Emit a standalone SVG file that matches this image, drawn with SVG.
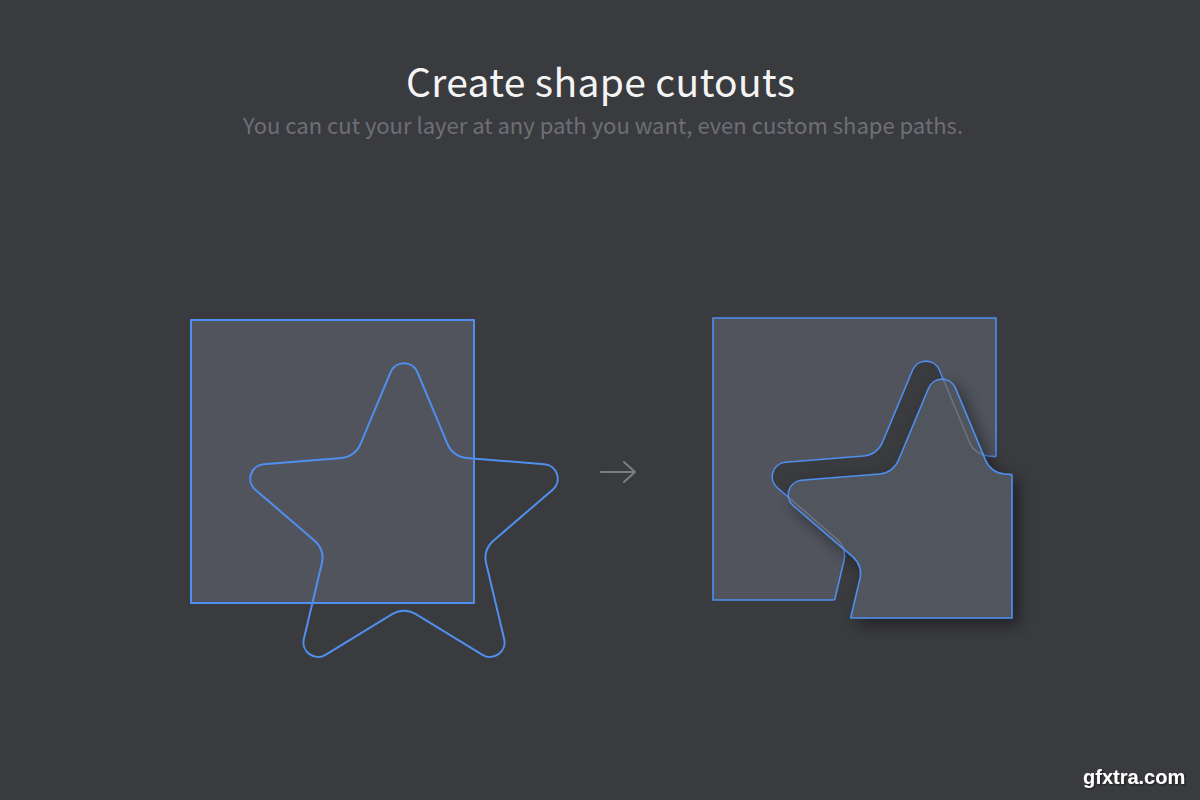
<svg xmlns="http://www.w3.org/2000/svg" width="1200" height="800" viewBox="0 0 1200 800">
<style>
  .bg{fill:#3a3b3f}
  .sq{fill:#51545d}
  .ol{fill:none;stroke:#4f8fef;stroke-width:2;stroke-linejoin:round}
  .olr{fill:none;stroke:#4f8fef;stroke-width:1.6;stroke-linejoin:round}
  .faint{fill:none;stroke:#9fb3d6;stroke-opacity:.35;stroke-width:1.4}
  .title{font-family:"Noto Sans CJK KR","Noto Sans",sans-serif;font-size:39px;fill:#f4f4f4}
  .sub{font-family:"Noto Sans CJK KR","Noto Sans",sans-serif;font-size:22px;fill:#6e6f75}
  .wm{font-family:"Liberation Sans",Arial,sans-serif;font-size:20px;font-weight:bold;fill:#ffffff}
  .arrow{fill:none;stroke:#7c7d82;stroke-width:2;stroke-linecap:round;stroke-linejoin:round}
</style>
<defs>
  <path id="star" d="M13.37,-151.98 L43.63,-79.52 A22,22 0 0 0 62.14,-66.06 L140.41,-59.68 A14.5,14.5 0 0 1 148.67,-34.25 L89.10,16.92 A22,22 0 0 0 82.03,38.69 L100.15,115.10 A14.5,14.5 0 0 1 78.51,130.81 L11.44,89.97 A22,22 0 0 0 -11.44,89.97 L-78.51,130.81 A14.5,14.5 0 0 1 -100.15,115.10 L-82.03,38.69 A22,22 0 0 0 -89.10,16.92 L-148.67,-34.25 A14.5,14.5 0 0 1 -140.41,-59.68 L-62.14,-66.06 A22,22 0 0 0 -43.63,-79.52 L-13.37,-151.98 A14.5,14.5 0 0 1 13.37,-151.98 Z"/>
  <clipPath id="clipSqR"><rect x="713" y="318" width="283" height="282"/></clipPath>
  <clipPath id="clipStarR"><use href="#star" transform="translate(926,522)"/></clipPath>
  <clipPath id="clipPiece"><use href="#star" transform="translate(942,540)"/></clipPath>
  <mask id="holeMask" maskUnits="userSpaceOnUse" x="0" y="0" width="1200" height="800">
    <rect width="1200" height="800" fill="#fff"/>
    <use href="#star" transform="translate(926,522)" fill="#000"/>
  </mask>
  <filter id="shadow" x="-30%" y="-30%" width="160%" height="160%">
    <feDropShadow dx="6" dy="6" stdDeviation="8" flood-color="#000" flood-opacity="0.45"/>
  </filter>
  <filter id="wmShadow" x="-10%" y="-30%" width="120%" height="160%">
    <feDropShadow dx="1" dy="1" stdDeviation="1" flood-color="#000" flood-opacity="0.6"/>
  </filter>
</defs>

<rect class="bg" width="1200" height="800"/>

<text class="title" x="600.5" y="97" text-anchor="middle" textLength="389">Create shape cutouts</text>
<text class="sub" x="603" y="134" text-anchor="middle" textLength="720">You can cut your layer at any path you want, even custom shape paths.</text>

<g id="left-square">
  <rect class="sq" x="191" y="320" width="283" height="283"/>
  <rect class="ol" x="191" y="320" width="283" height="283"/>
</g>
<g id="left-star">
  <use href="#star" class="ol" transform="translate(404,524)"/>
</g>

<g id="connectors">
  <path class="arrow" d="M601,472 H635 M624,462 L635,472 L624,482"/>
</g>

<g id="cut-square">
  <rect class="sq" x="713" y="318" width="283" height="282" mask="url(#holeMask)"/>
  <rect class="olr" x="713" y="318" width="283" height="282" mask="url(#holeMask)"/>
  <g clip-path="url(#clipSqR)">
    <use href="#star" class="olr" transform="translate(926,522)"/>
  </g>
</g>

<g id="cut-piece" filter="url(#shadow)">
  <g transform="translate(16,18)">
    <g clip-path="url(#clipSqR)">
      <use href="#star" class="sq" transform="translate(926,522)"/>
      <use href="#star" class="olr" transform="translate(926,522)"/>
    </g>
    <g clip-path="url(#clipStarR)">
      <rect class="olr" x="713" y="318" width="283" height="282"/>
    </g>
  </g>
</g>
<g id="hole-through" clip-path="url(#clipPiece)">
  <g clip-path="url(#clipSqR)">
    <use href="#star" class="faint" transform="translate(926,522)"/>
  </g>
</g>

<text class="wm" x="1083" y="784" filter="url(#wmShadow)">gfxtra.com</text>
</svg>
